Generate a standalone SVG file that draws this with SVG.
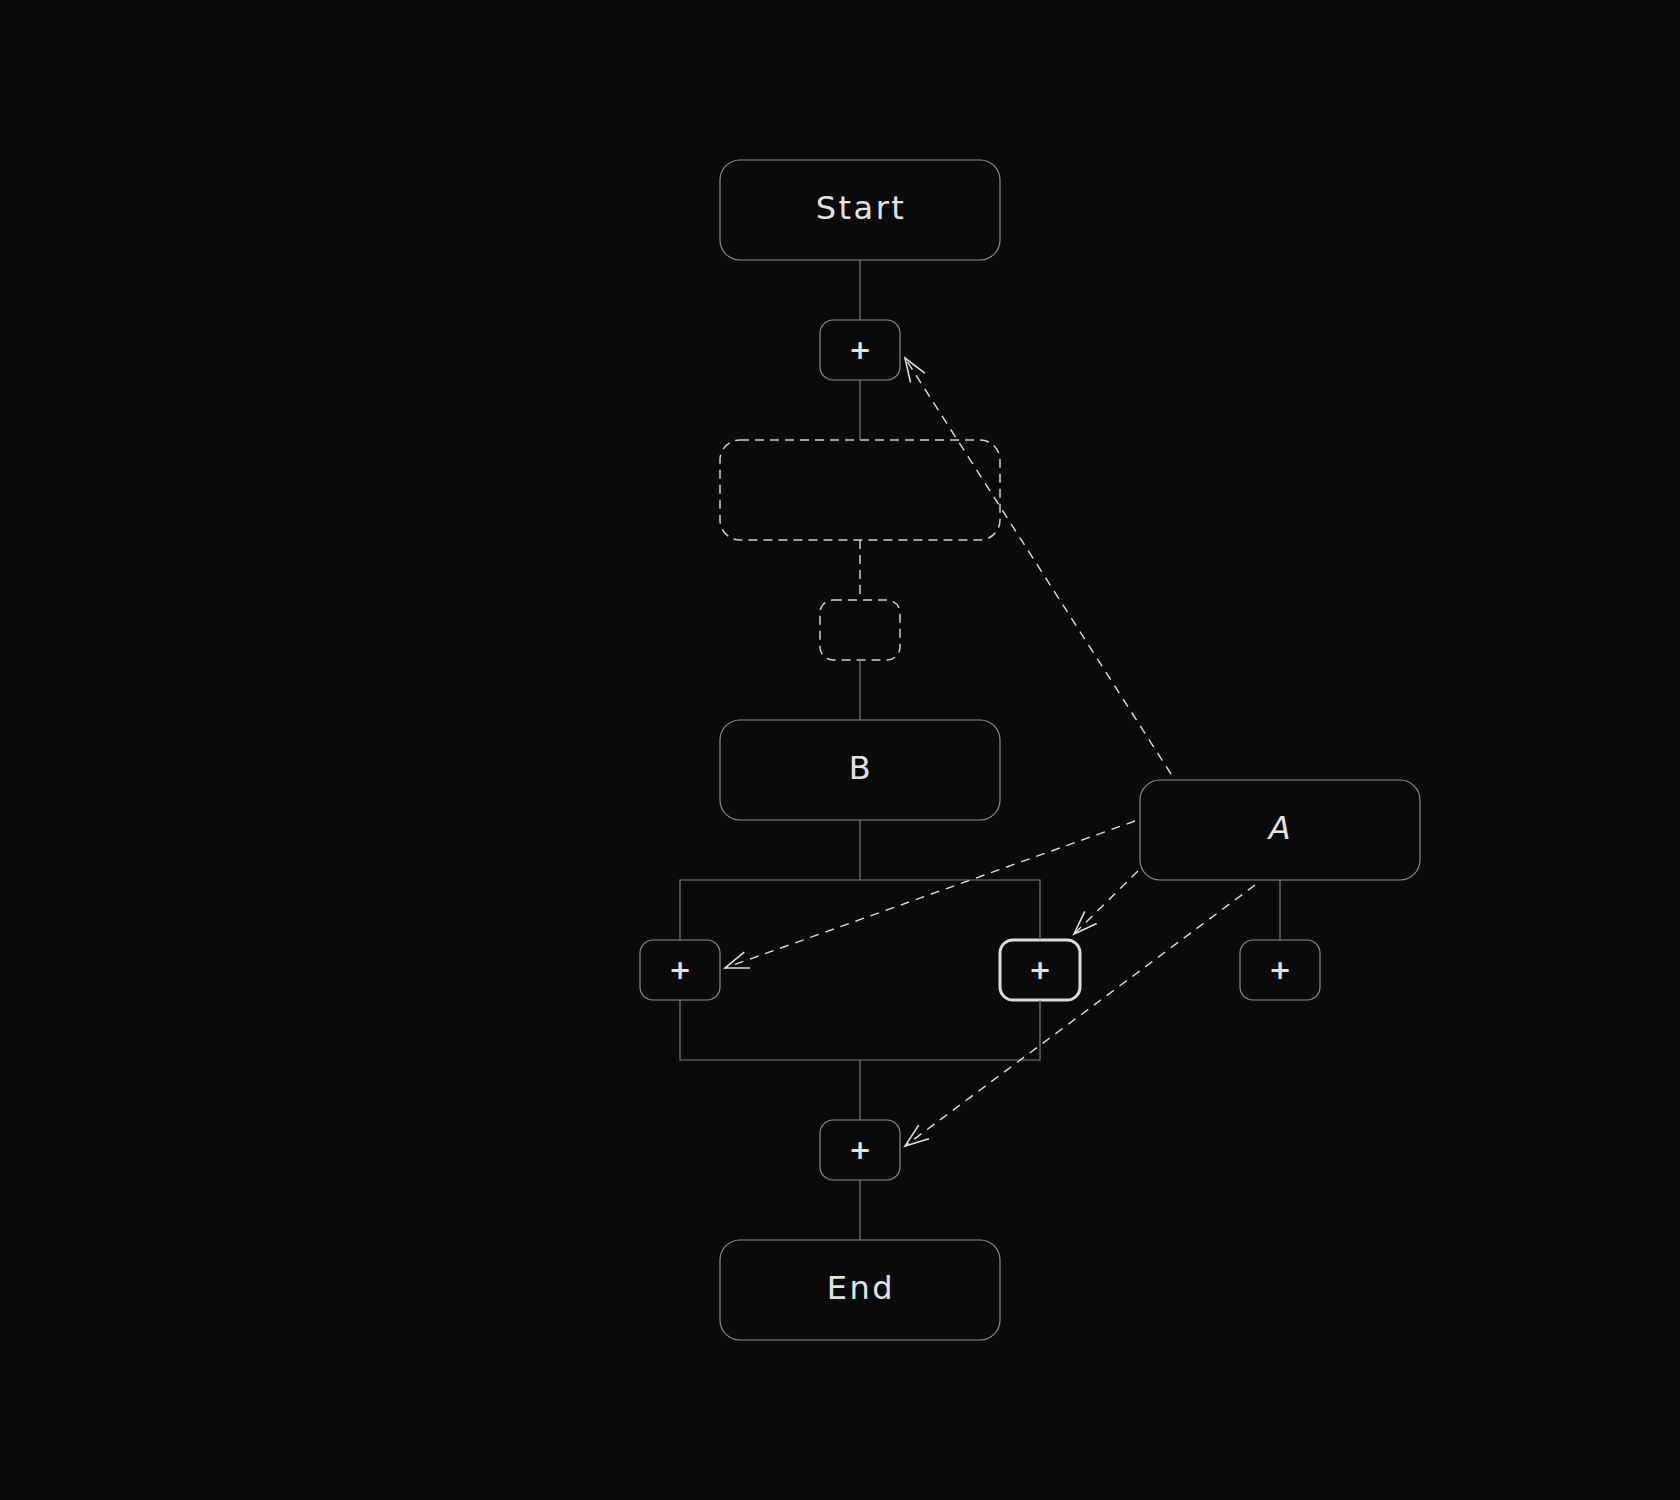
<svg xmlns="http://www.w3.org/2000/svg" width="1680" height="1500" viewBox="0 0 1680 1500">
<defs>
<style>
.bg{fill:#0a0a0a}
.node{fill:#0a0a0a;stroke:#8c8c8c;stroke-width:1.2}
.ghost{fill:none;stroke:#cfcfcf;stroke-width:1.5;stroke-dasharray:9 6}
.sel{fill:#0a0a0a;stroke:#dcdcdc;stroke-width:3}
.lbl{fill:#e2e2e2;font-family:"DejaVu Sans","Liberation Sans",sans-serif;font-size:32px;letter-spacing:2.5px;text-anchor:middle;dominant-baseline:central}
.plus{fill:#e2e2e2;font-family:"DejaVu Sans","Liberation Sans",sans-serif;font-size:27px;font-weight:bold;text-anchor:middle;dominant-baseline:central}
.wire{fill:none;stroke:#7a7a7a;stroke-width:1.2}
.wire-dash{fill:none;stroke:#cfcfcf;stroke-width:1.5;stroke-dasharray:9 6}
.link{fill:none;stroke:#dedede;stroke-width:1.4;stroke-dasharray:9 7;marker-end:url(#open)}
</style>
<marker id="open" markerUnits="userSpaceOnUse" markerWidth="40" markerHeight="40" viewBox="-30 -20 40 40" refX="0" refY="0" orient="auto">
<path d="M-23.5,-8.5 L0,0 L-23.5,8.5" fill="none" stroke="#dedede" stroke-width="1.6"/>
</marker>
</defs>
<rect class="bg" x="0" y="0" width="1680" height="1500"/>

<g id="start">
<rect class="node" x="720" y="160" width="280" height="100" rx="20"/>
<text class="lbl" x="861" y="208">Start</text>
</g>
<g id="add1">
<rect class="node" x="820" y="320" width="80" height="60" rx="13"/>
<text class="plus" x="860" y="349">+</text>
</g>
<g id="placeholder">
<rect class="ghost" x="720" y="440" width="280" height="100" rx="20"/>
</g>
<g id="placeholder-add">
<rect class="ghost" x="820" y="600" width="80" height="60" rx="13"/>
</g>
<g id="b">
<rect class="node" x="720" y="720" width="280" height="100" rx="20"/>
<text class="lbl" x="861" y="768">B</text>
</g>
<g id="add-left">
<rect class="node" x="640" y="940" width="80" height="60" rx="13"/>
<text class="plus" x="680" y="969">+</text>
</g>
<g id="add-right">
<rect class="sel" x="1000" y="940" width="80" height="60" rx="13"/>
<text class="plus" x="1040" y="969">+</text>
</g>
<g id="a">
<rect class="node" x="1140" y="780" width="280" height="100" rx="20"/>
<text class="lbl" x="1281" y="828" font-style="italic">A</text>
</g>
<g id="add-a">
<rect class="node" x="1240" y="940" width="80" height="60" rx="13"/>
<text class="plus" x="1280" y="969">+</text>
</g>
<g id="add-bottom">
<rect class="node" x="820" y="1120" width="80" height="60" rx="13"/>
<text class="plus" x="860" y="1149">+</text>
</g>
<g id="end">
<rect class="node" x="720" y="1240" width="280" height="100" rx="20"/>
<text class="lbl" x="861" y="1288">End</text>
</g>

<g id="connectors">
<line class="wire" x1="860" y1="260" x2="860" y2="320"/>
<line class="wire" x1="860" y1="380" x2="860" y2="440"/>
<line class="wire-dash" x1="860" y1="540" x2="860" y2="600"/>
<line class="wire" x1="860" y1="660" x2="860" y2="720"/>
<line class="wire" x1="860" y1="820" x2="860" y2="880"/>
<path class="wire" d="M680,940 V880 H1040 V940"/>
<path class="wire" d="M680,1000 V1060 H1040 V1000"/>
<line class="wire" x1="860" y1="1060" x2="860" y2="1120"/>
<line class="wire" x1="860" y1="1180" x2="860" y2="1240"/>
<line class="wire" x1="1280" y1="880" x2="1280" y2="940"/>
<line class="link" x1="1171" y1="774" x2="905" y2="358"/>
<line class="link" x1="1135" y1="821" x2="725" y2="968"/>
<line class="link" x1="1138" y1="871" x2="1074" y2="934"/>
<line class="link" x1="1255" y1="885" x2="905" y2="1146"/>
</g>
</svg>
